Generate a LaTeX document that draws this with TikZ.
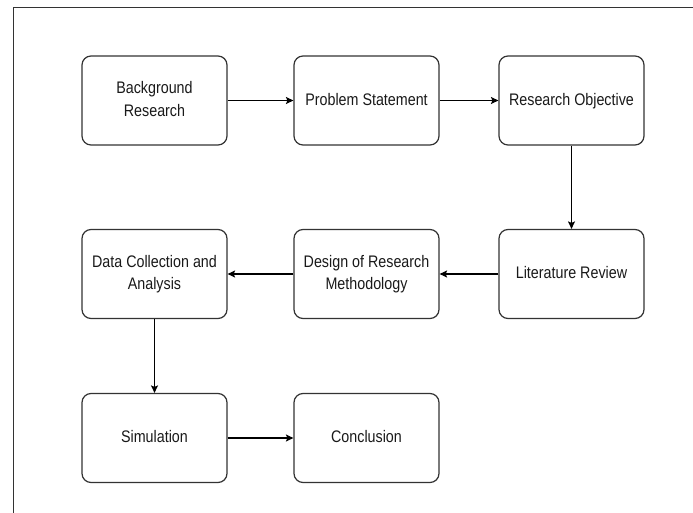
\documentclass[tikz,border=0pt]{standalone}
\usepackage{fontspec}
\setmainfont{Liberation Sans}
\usetikzlibrary{arrows.meta}
\newcommand{\boxtext}[1]{\scalebox{1}[1.17]{\begin{tabular}{@{}c@{}}#1\end{tabular}}}
\begin{document}
\begin{tikzpicture}[x=1pt,y=-1pt,
  box/.style={draw=black!80, line width=1.2pt, rounded corners=9pt, minimum width=145pt, minimum height=89pt, align=center, font=\fontsize{14.3}{19.3}\selectfont, text=black!90, inner sep=2pt},
  flow/.style={draw=black, line width=1.2pt, -{Stealth[length=7.5pt,width=7pt,inset=1.5pt]}}]
\useasboundingbox (0,0) rectangle (693,513);
\draw[line width=1pt, black!80] (13,513) -- (13,8) -- (693,8);
\node[box] (br) at (154.5,100.5) {\boxtext{Background\\Research}};
\node[box] (ps) at (366.5,100.5) {\boxtext{Problem Statement}};
\node[box] (ro) at (571.5,100.5) {\boxtext{Research Objective}};
\node[box] (lr) at (571.5,274) {\boxtext{Literature Review}};
\node[box] (dr) at (366.5,274) {\boxtext{Design of Research\\Methodology}};
\node[box] (dc) at (154.5,274) {\boxtext{Data Collection and\\Analysis}};
\node[box] (si) at (154.5,438) {\boxtext{Simulation}};
\node[box] (co) at (366.5,438) {\boxtext{Conclusion}};
\draw[flow] (br) -- (ps);
\draw[flow] (ps) -- (ro);
\draw[flow] (ro) -- (lr);
\draw[flow] (lr) -- (dr);
\draw[flow] (dr) -- (dc);
\draw[flow] (dc) -- (si);
\draw[flow] (si) -- (co);
\end{tikzpicture}
\end{document}
